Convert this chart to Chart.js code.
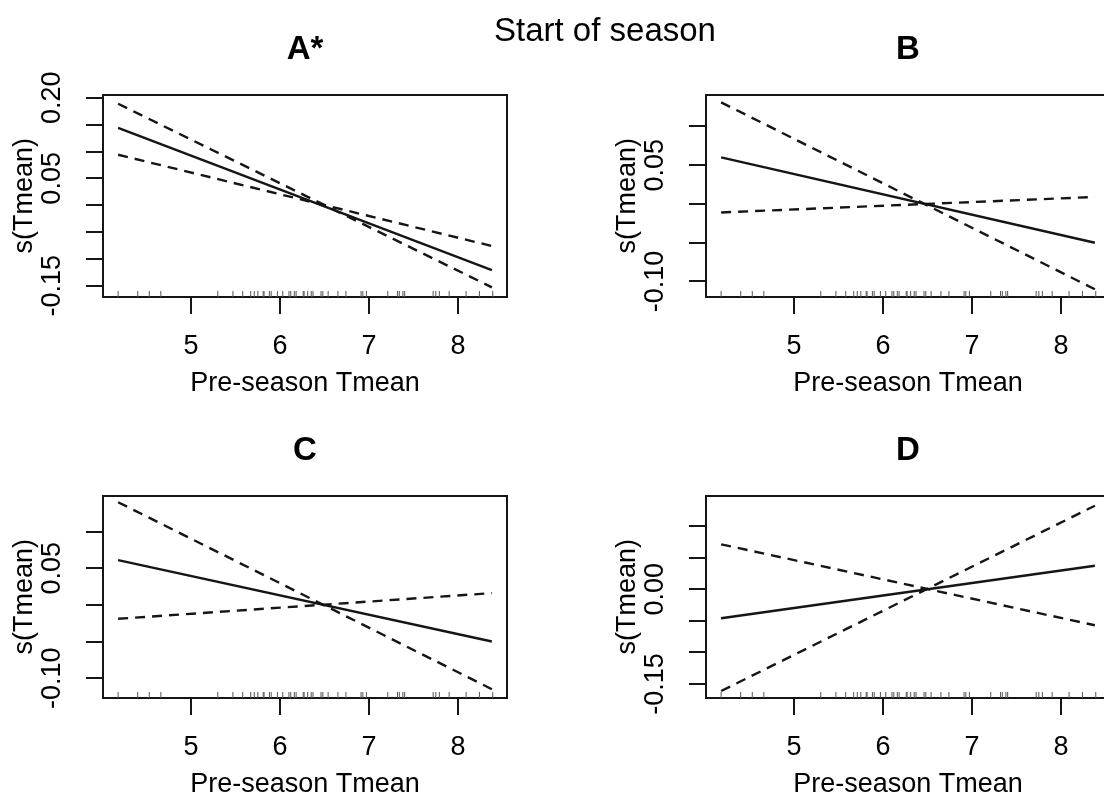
<!DOCTYPE html>
<html>
<head>
<meta charset="utf-8">
<title>Start of season</title>
<style>
    html, body {
        margin: 0;
        padding: 0;
        background: #fff;
        overflow: hidden;
    }
    #page {
        position: relative;
        width: 1104px;
        height: 798px;
        overflow: hidden;
    }
    #main-title {
        position: absolute;
        left: 405px;
        width: 400px;
        top: 10px;
        text-align: center;
        font: 33px "Liberation Sans", Arial, sans-serif;
        line-height: 40px;
        color: #000;
    }
    .panel {
        position: absolute;
        width: 610px;
        height: 400px;
    }
</style>
</head>
<body>

<script src="https://cdn.jsdelivr.net/npm/chart.js@4.4.1/dist/chart.umd.min.js"></script>

<div id="page">
    <canvas class="panel" id="panel-a" width="610" height="400" style="left:0;top:0"></canvas>
    <canvas class="panel" id="panel-b" width="610" height="400" style="left:603px;top:0"></canvas>
    <canvas class="panel" id="panel-c" width="610" height="400" style="left:0;top:401px"></canvas>
    <canvas class="panel" id="panel-d" width="610" height="400" style="left:603px;top:401px"></canvas>
    <div id="main-title">Start of season</div>
</div>

<script>
    // rug: observed pre-season Tmean values (same in every panel)
    const rugX = [4.18, 4.40, 4.53, 4.66, 5.30, 5.47, 5.58, 5.67, 5.71, 5.75, 5.81, 5.82, 5.88, 5.90,
        5.97, 6.03, 6.10, 6.12, 6.16, 6.18, 6.26, 6.27, 6.31, 6.35, 6.37, 6.46, 6.48, 6.54, 6.65,
        6.74, 6.91, 6.93, 6.97, 7.21, 7.32, 7.34, 7.38, 7.40, 7.72, 7.75, 7.79, 7.90, 8.09, 8.24, 8.39];
    const xEnds = [4.18, 8.38];
    const xTicks = [5, 6, 7, 8];
    const xRange = [4.01, 8.55];

    // A*
    const fitA = [0.144, -0.121];
    const ciSteepA = [0.189, -0.153];
    const ciFlatA = [0.094, -0.076];
    const yTicksA = [-0.15, -0.10, -0.05, 0.00, 0.05, 0.10, 0.15, 0.20];
    const yLabelsA = [0.20, 0.05, -0.15];
    const yRangeA = [-0.171, 0.206];

    // B
    const fitB = [0.060, -0.050];
    const ciSteepB = [0.131, -0.110];
    const ciFlatB = [-0.011, 0.009];
    const yTicksB = [-0.10, -0.05, 0.00, 0.05, 0.10];
    const yLabelsB = [0.05, -0.10];
    const yRangeB = [-0.120, 0.141];

    // C
    const fitC = [0.061, -0.050];
    const ciSteepC = [0.140, -0.115];
    const ciFlatC = [-0.019, 0.016];
    const yTicksC = [-0.10, -0.05, 0.00, 0.05, 0.10];
    const yLabelsC = [0.05, -0.10];
    const yRangeC = [-0.127, 0.149];

    // D
    const fitD = [-0.046, 0.037];
    const ciSteepD = [-0.161, 0.132];
    const ciFlatD = [0.071, -0.057];
    const yTicksD = [-0.15, -0.10, -0.05, 0.00, 0.05, 0.10];
    const yLabelsD = [0.00, -0.15];
    const yRangeD = [-0.172, 0.148];

    const FONT = '"Liberation Sans", Arial, sans-serif';
    const ink = '#151515';

    function pts(ys) {
        return xEnds.map((x, i) => ({x: x, y: ys[i]}));
    }

    function make_panel(id, title, fit, ciSteep, ciFlat, yTicks, yLabels, yRange) {
        const axisFont = {family: FONT, size: 27};
        return new Chart(document.getElementById(id), {
            type: 'line',
            data: {
                datasets: [
                    {data: pts(fit), borderColor: ink, borderWidth: 2.4, pointRadius: 0},
                    {data: pts(ciSteep), borderColor: ink, borderWidth: 2.4, borderDash: [10, 7], pointRadius: 0},
                    {data: pts(ciFlat), borderColor: ink, borderWidth: 2.4, borderDash: [10, 7], pointRadius: 0},
                    {
                        data: rugX.map(x => ({x: x, y: yRange[0]})),
                        showLine: false,
                        pointStyle: 'line',
                        pointRotation: 90,
                        pointRadius: 6,
                        pointBorderWidth: 1,
                        pointBorderColor: '#555',
                        clip: 0
                    }
                ]
            },
            options: {
                responsive: false,
                animation: false,
                events: [],
                layout: {padding: 0},
                plugins: {
                    legend: {display: false},
                    tooltip: {enabled: false},
                    title: {
                        display: true,
                        text: title,
                        color: '#000',
                        font: {family: FONT, size: 33, weight: 'bold'},
                        padding: {top: 30, bottom: 25}
                    }
                },
                scales: {
                    x: {
                        type: 'linear',
                        position: 'bottom',
                        min: xRange[0],
                        max: xRange[1],
                        afterBuildTicks: s => { s.ticks = xTicks.map(v => ({value: v})); },
                        afterFit: s => { s.height = 103; },
                        grid: {drawOnChartArea: false, tickLength: 17, lineWidth: 2, color: ink},
                        border: {color: ink, width: 2},
                        ticks: {color: '#000', font: axisFont, padding: 16, maxRotation: 0, autoSkip: false},
                        title: {
                            display: true, text: 'Pre-season Tmean', color: '#000', font: axisFont,
                            padding: {top: 0, bottom: 0}
                        }
                    },
                    y: {
                        type: 'linear',
                        position: 'left',
                        min: yRange[0],
                        max: yRange[1],
                        afterBuildTicks: s => { s.ticks = yTicks.map(v => ({value: v})); },
                        afterFit: s => { s.width = 103; },
                        grid: {drawOnChartArea: false, tickLength: 17, lineWidth: 2, color: ink},
                        border: {color: ink, width: 2},
                        ticks: {
                            color: '#000', font: axisFont, padding: 3, autoSkip: false,
                            minRotation: 90, maxRotation: 90, crossAlign: 'center',
                            callback: v => yLabels.some(l => Math.abs(l - v) < 1e-9) ? v.toFixed(2) : ''
                        },
                        title: {
                            display: true, text: 's(Tmean)', color: '#000', font: axisFont,
                            padding: {top: 8, bottom: 0}
                        }
                    },
                    xTop: {
                        type: 'linear',
                        position: 'top',
                        min: xRange[0],
                        max: xRange[1],
                        afterFit: s => { s.height = 0; },
                        ticks: {display: false},
                        grid: {drawOnChartArea: false, drawTicks: false},
                        border: {color: ink, width: 2}
                    },
                    yRight: {
                        // as wide as the left axis so the panel title centres over the box
                        type: 'linear',
                        position: 'right',
                        min: yRange[0],
                        max: yRange[1],
                        afterFit: s => { s.width = 103; },
                        ticks: {display: false},
                        grid: {drawOnChartArea: false, drawTicks: false},
                        border: {color: ink, width: 2}
                    }
                }
            }
        });
    }

    make_panel('panel-a', 'A*', fitA, ciSteepA, ciFlatA, yTicksA, yLabelsA, yRangeA);
    make_panel('panel-b', 'B', fitB, ciSteepB, ciFlatB, yTicksB, yLabelsB, yRangeB);
    make_panel('panel-c', 'C', fitC, ciSteepC, ciFlatC, yTicksC, yLabelsC, yRangeC);
    make_panel('panel-d', 'D', fitD, ciSteepD, ciFlatD, yTicksD, yLabelsD, yRangeD);
</script>

</body>
</html>
